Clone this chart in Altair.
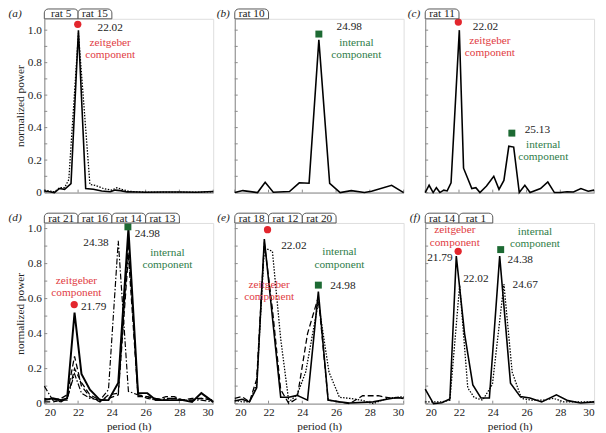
import altair as alt
import pandas as pd

FONT = "Liberation Serif, Times New Roman, DejaVu Serif, serif"
RED = "#e3262d"
RED_T = "#df3c44"
GREEN = "#1d6a33"
GREEN_T = "#2f7d49"
AXC = "#8a8a8a"

# ---------------- data ----------------
# panel (a)
a_rat5_x = [20.0, 20.3, 20.6, 20.9, 21.2, 21.58, 22.02, 22.45, 22.9, 23.4, 23.9, 24.2, 24.5, 24.9, 25.5, 26.0, 27.0, 28.0, 29.0, 30.0]
a_rat5_y = [0.01, 0.005, 0.0, 0.025, 0.02, 0.055, 1.0, 0.025, 0.02, 0.01, 0.005, 0.015, 0.012, 0.004, 0.003, 0.002, 0.003, 0.003, 0.002, 0.006]
a_rat15_x = [20.0, 20.3, 20.6, 20.9, 21.2, 21.45, 22.02, 22.7, 23.0, 23.5, 24.0, 24.3, 24.6, 25.0, 25.5, 26.0, 27.0, 28.0, 29.0, 30.0]
a_rat15_y = [0.015, 0.01, 0.005, 0.03, 0.03, 0.08, 0.98, 0.05, 0.045, 0.025, 0.015, 0.03, 0.02, 0.008, 0.004, 0.003, 0.002, 0.003, 0.003, 0.004]

# panel (b)
b_rat10_x = [20.0, 20.48, 21.35, 21.8, 22.28, 23.24, 23.82, 24.4, 24.98, 25.62, 26.24, 26.9, 27.68, 28.1, 29.29, 30.0]
b_rat10_y = [0.0, 0.012, 0.0, 0.063, 0.002, 0.006, 0.06, 0.057, 0.94, 0.057, 0.0, 0.012, 0.0, 0.008, 0.045, 0.0]

# panel (c)
c_rat11_x = [20.0, 20.23, 20.47, 20.66, 20.87, 21.1, 21.3, 21.53, 22.02, 22.27, 22.76, 23.0, 23.24, 23.63, 24.06, 24.37, 24.66,
             24.95, 25.24, 25.57, 25.9, 26.21, 26.83, 27.26, 27.65, 28.0, 28.39, 28.78, 29.22, 29.65, 30.0]
c_rat11_y = [0.0, 0.045, 0.0, 0.03, 0.0, 0.015, 0.01, 0.06, 1.0, 0.15, 0.025, 0.03, 0.0, 0.04, 0.1, 0.02, 0.075,
             0.285, 0.28, 0.0, 0.045, 0.0, 0.025, 0.065, 0.0, 0.0, 0.005, 0.003, 0.025, 0.008, 0.015]

# panel (d)
d_x = [20.0, 20.5, 21.0, 21.35, 21.79, 22.2, 22.7, 23.3, 23.8, 24.38, 24.98, 25.55, 26.1, 26.6, 27.2, 27.7, 28.2, 28.75, 29.3, 30.0]
d_rat21_y = [0.02, 0.03, 0.02, 0.03, 0.52, 0.17, 0.08, 0.02, 0.02, 0.12, 1.0, 0.06, 0.06, 0.02, 0.02, 0.02, 0.02, 0.01, 0.06, 0.01]
d_rat16_y = [0.03, 0.02, 0.03, 0.05, 0.27, 0.1, 0.04, 0.01, 0.05, 0.06, 0.92, 0.05, 0.04, 0.03, 0.02, 0.03, 0.02, 0.02, 0.03, 0.02]
d_rat14_y = [0.1, 0.02, 0.01, 0.03, 0.17, 0.06, 0.03, 0.02, 0.08, 0.93, 0.07, 0.05, 0.03, 0.02, 0.03, 0.03, 0.02, 0.02, 0.02, 0.01]
d_rat13_y = [0.01, 0.01, 0.02, 0.02, 0.2, 0.12, 0.05, 0.02, 0.03, 0.05, 0.85, 0.04, 0.04, 0.02, 0.04, 0.04, 0.02, 0.03, 0.03, 0.02]

# panel (e)
e_rat18_x = [20.0, 20.43, 20.87, 21.3, 21.75, 22.72, 23.2, 23.69, 24.31, 24.95, 25.53, 26.2, 26.8, 28.2, 29.0, 29.6, 30.0]
e_rat18_y = [0.015, 0.025, 0.01, 0.09, 0.94, 0.036, 0.036, 0.047, 0.02, 0.64, 0.02, 0.01, 0.004, 0.01, 0.025, 0.035, 0.03]
e_rat12_x = [20.0, 20.43, 20.87, 21.3, 21.75, 22.23, 22.72, 23.2, 23.69, 24.31, 24.95, 25.53, 26.2, 26.8, 27.57, 28.5, 29.3, 30.0]
e_rat12_y = [0.03, 0.04, 0.01, 0.14, 0.92, 0.54, 0.08, 0.0, 0.03, 0.4, 0.61, 0.02, 0.01, 0.0, 0.045, 0.045, 0.03, 0.035]
e_rat20_x = [20.0, 20.43, 20.87, 21.3, 21.75, 22.23, 22.72, 23.2, 23.69, 24.2, 24.95, 25.58, 26.2, 26.8, 27.5, 28.2, 29.0, 30.0]
e_rat20_y = [0.02, 0.01, 0.01, 0.11, 0.89, 0.87, 0.37, 0.01, 0.05, 0.18, 0.58, 0.18, 0.036, 0.03, 0.02, 0.0, 0.03, 0.04]

# panel (f)
f_rat14_x = [20.0, 20.49, 20.98, 21.46, 21.84, 22.33, 22.82, 23.3, 23.8, 24.41, 25.05, 25.63, 26.2, 26.9, 27.77, 28.45, 29.2, 30.0]
f_rat14_y = [0.083, 0.0, 0.005, 0.026, 0.843, 0.4, 0.107, 0.032, 0.032, 0.843, 0.117, 0.04, 0.032, 0.01, 0.05, 0.017, 0.004, 0.01]
f_rat1_x = [20.0, 20.49, 20.98, 21.46, 22.04, 22.52, 22.9, 23.4, 23.98, 24.66, 25.15, 25.7, 26.3, 27.0, 27.6, 28.2, 29.0, 30.0]
f_rat1_y = [0.01, 0.01, 0.01, 0.02, 0.677, 0.09, 0.035, 0.02, 0.11, 0.683, 0.18, 0.03, 0.02, 0.02, 0.03, 0.01, 0.01, 0.01]

# tabs (rat labels) per panel, each covering 2 h
tabs_a = ["rat 5", "rat 15"]
tabs_b = ["rat 10"]
tabs_c = ["rat 11"]
tabs_d = ["rat 21", "rat 16", "rat 14", "rat 13"]
tabs_e = ["rat 18", "rat 12", "rat 20"]
tabs_f = ["rat 14", "rat 1"]

# markers: (x, y)
zeit_a = (21.98, 1.036)
zeit_c = (21.96, 1.05)
zeit_d = (21.77, 0.566)
zeit_e = (21.94, 0.994)
zeit_f = (21.95, 0.87)
int_b = (24.98, 0.976)
int_c = (25.13, 0.366)
int_d = (24.95, 1.01)
int_e = (24.95, 0.677)
int_f = (24.47, 0.88)

# annotation texts: (x, y, text, kind)
ann_a = [(23.9, 1.016, "22.02", "k"), (23.9, 0.919, "zeitgeber", "r"), (23.9, 0.848, "component", "r")]
ann_b = [(26.78, 1.02, "24.98", "k"), (27.2, 0.919, "internal", "g"), (27.2, 0.844, "component", "g")]
ann_c = [(23.57, 1.022, "22.02", "k"), (23.83, 0.935, "zeitgeber", "r"), (23.83, 0.859, "component", "r"),
         (26.64, 0.384, "25.13", "k"), (26.99, 0.293, "internal", "g"), (26.99, 0.218, "component", "g")]
ann_d = [(26.1, 0.97, "24.98", "k"), (27.29, 0.862, "internal", "g"), (27.29, 0.79, "component", "g"),
         (21.9, 0.70, "zeitgeber", "r"), (21.9, 0.63, "component", "r"), (22.92, 0.55, "21.79", "k"),
         (23.06, 0.92, "24.38", "k")]
ann_e = [(23.5, 0.90, "22.02", "k"), (26.2, 0.866, "internal", "g"), (26.2, 0.794, "component", "g"),
         (26.4, 0.67, "24.98", "k"), (22.04, 0.677, "zeitgeber", "r"), (22.04, 0.606, "component", "r")]
ann_f = [(20.87, 0.834, "21.79", "k"), (23.0, 0.71, "22.02", "k"), (25.63, 0.82, "24.38", "k"),
         (25.92, 0.677, "24.67", "k"), (21.75, 0.99, "zeitgeber", "r"), (21.75, 0.92, "component", "r"),
         (26.5, 0.98, "internal", "g"), (26.5, 0.913, "component", "g")]

# ---------------- styling ----------------
SOLID = dict(strokeWidth=1.6)
DOTTED = dict(strokeWidth=1.3, strokeDash=[1.5, 1.5])
DASHED = dict(strokeWidth=1.3, strokeDash=[6, 3])
DASHDOT = dict(strokeWidth=1.2, strokeDash=[6, 2, 1.5, 2])
TEXTCOL = {"k": "#222222", "r": RED_T, "g": GREEN_T}
FS = 11.5

W = 172
H_TOP, H_BOT = 177, 184
YMAX_TOP, YMAX_BOT = 1.07, 1.032


def panel(letter, series, tabs, zeit, intl, ann, height, ymax, show_y, show_x):
    xs = alt.Scale(domain=[20, 30], nice=False, zero=False)
    ysc = alt.Scale(domain=[0, ymax], nice=False, zero=False)
    if show_x:
        xaxis = alt.Axis(values=[20, 22, 24, 26, 28, 30], format="d", ticks=False, grid=False,
                         domainColor=AXC, labelFont=FONT, labelFontSize=FS, labelColor="#222",
                         labelPadding=3, title="period (h)", titleFont=FONT, titleFontSize=FS,
                         titleFontWeight="normal", titleColor="#222", titlePadding=3)
    else:
        xaxis = alt.Axis(labels=False, ticks=False, grid=False, domainColor=AXC, title=None)
    if show_y:
        yaxis = alt.Axis(values=[0, 0.2, 0.4, 0.6, 0.8, 1.0],
                         labelExpr="datum.value == 0 ? '0' : format(datum.value, '.1f')",
                         ticks=False, grid=False, domainColor=AXC, labelFont=FONT, labelFontSize=FS,
                         labelColor="#222", labelPadding=3, title="normalized power", titleFont=FONT,
                         titleFontSize=FS, titleFontWeight="normal", titleColor="#222", titlePadding=2)
    else:
        yaxis = alt.Axis(labels=False, ticks=False, grid=False, domainColor=AXC, title=None)

    def X(f="x"):
        return alt.X(f + ":Q", scale=xs, axis=xaxis)

    def Y(f="y"):
        return alt.Y(f + ":Q", scale=ysc, axis=yaxis)

    layers = []
    # inner ticks
    xt = pd.DataFrame({"x": [20, 22, 24, 26, 28, 30]})
    layers.append(alt.Chart(xt).mark_rule(color=AXC, strokeWidth=1).encode(
        x=X(), y=alt.value(height), y2=alt.value(height - 3)))
    yt = pd.DataFrame({"y": [i / 10 for i in range(11)]})
    layers.append(alt.Chart(yt).mark_rule(color=AXC, strokeWidth=1).encode(
        y=Y(), x=alt.value(0), x2=alt.value(3)))

    # lines
    for xv, yv, style in series:
        df = pd.DataFrame({"x": xv, "y": yv})
        layers.append(alt.Chart(df).mark_line(color="black", **style).encode(x=X(), y=Y()))

    # annotations
    for x, y, t, k in ann:
        df = pd.DataFrame({"x": [x], "y": [y], "t": [t]})
        layers.append(alt.Chart(df).mark_text(font=FONT, fontSize=FS, color=TEXTCOL[k],
                                              align="center", baseline="middle").encode(
            x=X(), y=Y(), text="t:N"))

    # markers
    if zeit:
        df = pd.DataFrame({"x": [zeit[0]], "y": [zeit[1]]})
        layers.append(alt.Chart(df).mark_point(shape="circle", filled=True, size=55, color=RED,
                                               opacity=1).encode(x=X(), y=Y()))
    if intl:
        df = pd.DataFrame({"x": [intl[0]], "y": [intl[1]]})
        layers.append(alt.Chart(df).mark_point(shape="square", filled=True, size=50, color=GREEN,
                                               opacity=1).encode(x=X(), y=Y()))

    # tabs
    starts = [20 + 2 * i for i in range(len(tabs))]
    tdf = pd.DataFrame({"x": starts, "x2": [s + 2 for s in starts], "t": tabs})
    layers.append(alt.Chart(tdf).mark_rect(fill="white", stroke="#555", strokeWidth=1,
                                           cornerRadiusTopLeft=4, cornerRadiusTopRight=4).encode(
        x=X(), x2="x2:Q", y=alt.value(-10), y2=alt.value(0)))
    tdf2 = pd.DataFrame({"x": [s + 1 for s in starts], "t": tabs})
    layers.append(alt.Chart(tdf2).mark_text(font=FONT, fontSize=FS, color="#222",
                                            baseline="middle").encode(
        x=X(), y=alt.value(-4.5), text="t:N"))

    # panel letter
    ldf = pd.DataFrame({"t": ["(" + letter + ")"]})
    layers.append(alt.Chart(ldf).mark_text(font=FONT, fontSize=FS, fontStyle="italic", color="#222",
                                           align="right", baseline="middle").encode(
        x=alt.value(-5 if not show_y else -23), y=alt.value(-5), text="t:N"))

    return alt.layer(*layers).properties(width=W, height=height)


pa = panel("a", [(a_rat15_x, a_rat15_y, DOTTED), (a_rat5_x, a_rat5_y, SOLID)], tabs_a, zeit_a, None,
           ann_a, H_TOP, YMAX_TOP, True, False)
pb = panel("b", [(b_rat10_x, b_rat10_y, SOLID)], tabs_b, None, int_b, ann_b, H_TOP, YMAX_TOP, False, False)
pc = panel("c", [(c_rat11_x, c_rat11_y, SOLID)], tabs_c, zeit_c, int_c, ann_c, H_TOP, YMAX_TOP, False, False)
pd_ = panel("d", [(d_x, d_rat13_y, DASHED), (d_x, d_rat16_y, DASHED), (d_x, d_rat14_y, DASHDOT),
                  (d_x, d_rat21_y, dict(strokeWidth=2.0))],
            tabs_d, zeit_d, int_d, ann_d, H_BOT, YMAX_BOT, True, True)
pe = panel("e", [(e_rat20_x, e_rat20_y, DOTTED), (e_rat12_x, e_rat12_y, DASHED), (e_rat18_x, e_rat18_y, SOLID)],
           tabs_e, zeit_e, int_e, ann_e, H_BOT, YMAX_BOT, False, True)
pf = panel("f", [(f_rat1_x, f_rat1_y, DOTTED), (f_rat14_x, f_rat14_y, SOLID)],
           tabs_f, zeit_f, int_f, ann_f, H_BOT, YMAX_BOT, False, True)

row1 = alt.hconcat(pa, pb, pc, spacing=22, bounds="flush")
row2 = alt.hconcat(pd_, pe, pf, spacing=22, bounds="flush")
chart = alt.vconcat(row1, row2, spacing=13).properties(
    padding={"left": 0, "top": -5, "right": 0, "bottom": 0}
).configure_view(stroke=None).configure(background="white")

chart.save("out.html", embed_options={"renderer": "svg", "actions": False})
